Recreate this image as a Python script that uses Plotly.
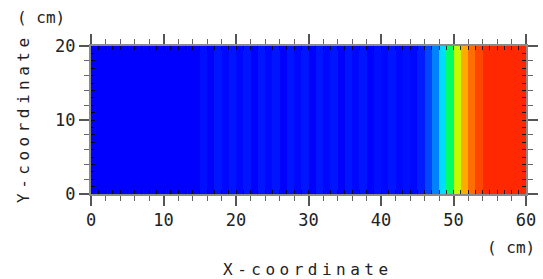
import plotly.graph_objects as go

# Column edges along X (cm) and Y edges (cm)
x_edges = list(range(0, 61))
y_edges = [0, 20]

# Value per 1-cm column (0 = blue ... 1 = red)
col_values = [
    0.00, 0.00, 0.00, 0.00, 0.00, 0.00, 0.00, 0.00, 0.00, 0.00,
    0.00, 0.00, 0.00, 0.00, 0.00, 0.02, 0.00, 0.03, 0.01, 0.03,
    0.01, 0.03, 0.00, 0.03, 0.01, 0.03, 0.00, 0.03, 0.01, 0.03,
    0.00, 0.03, 0.01, 0.03, 0.00, 0.03, 0.01, 0.03, 0.00, 0.02,
    0.01, 0.03, 0.01, 0.02, 0.01, 0.04, 0.10, 0.20, 0.30, 0.40,
    0.52, 0.70, 0.80, 0.90, 1.00, 1.00, 1.00, 1.00, 1.00, 1.00,
]

colorscale = [
    [0.0, "rgb(0,0,255)"],
    [0.1, "rgb(0,70,255)"],
    [0.2, "rgb(0,130,255)"],
    [0.3, "rgb(0,220,255)"],
    [0.4, "rgb(0,255,100)"],
    [0.5, "rgb(180,255,0)"],
    [0.6, "rgb(255,230,0)"],
    [0.7, "rgb(255,170,0)"],
    [0.8, "rgb(255,110,0)"],
    [0.9, "rgb(255,70,0)"],
    [1.0, "rgb(255,40,0)"],
]

x_ticks = [0, 10, 20, 30, 40, 50, 60]
y_ticks = [0, 10, 20]

FONT = "DejaVu Sans Mono"
TXT = "#222222"

W, H = 543, 279
L, R, T, B = 91, 17, 46, 85
PW, PH = W - L - R, H - T - B

fig = go.Figure()
fig.add_trace(go.Heatmap(
    x=x_edges, y=y_edges, z=[col_values],
    colorscale=colorscale, zmin=0, zmax=1, showscale=False,
    hoverinfo="skip",
))
# invisible trace to host the outer labelled axes
fig.add_trace(go.Scatter(x=[], y=[], xaxis="x2", yaxis="y2", showlegend=False))

inner = dict(
    showgrid=False, zeroline=False, showline=False, mirror="ticks",
    ticks="inside", ticklen=4, tickwidth=1, tickcolor="rgba(0,0,0,0.8)",
    dtick=1, tick0=0, showticklabels=False, automargin=False,
)
outer = dict(
    showgrid=False, zeroline=False, showline=True, linecolor="#8a8a8a",
    linewidth=2, mirror="ticks", ticks="outside", ticklen=10, tickwidth=2,
    tickcolor="#555555", automargin=False,
    tickfont=dict(family=FONT, size=17, color=TXT),
    minor=dict(ticks="outside", ticklen=5, tickwidth=1, tickcolor="#666666",
               dtick=2, showgrid=False),
)

fig.update_layout(
    width=W, height=H,
    margin=dict(l=L, r=R, t=T, b=B),
    paper_bgcolor="white", plot_bgcolor="white",
    xaxis=dict(range=[0, 60], **inner),
    yaxis=dict(range=[0, 20], **inner),
    xaxis2=dict(range=[0, 60], overlaying="x", anchor="y2", side="bottom",
                tickvals=x_ticks, **outer),
    yaxis2=dict(range=[0, 20], overlaying="y", anchor="x2", side="left",
                tickvals=y_ticks, **outer),
    showlegend=False,
)

annots = [
    dict(text="( cm)", x=41, y=18),
    dict(text="( cm)", x=511, y=247),
    dict(text="X-coordinate", x=308, y=269),
    dict(text="Y-coordinate", x=23, y=118, textangle=-90),
]
for a in annots:
    fig.add_annotation(
        text=a["text"], x=(a["x"] - L) / PW, y=(H - B - a["y"]) / PH,
        xref="paper", yref="paper", xanchor="center", yanchor="middle",
        showarrow=False, textangle=a.get("textangle", 0),
        font=dict(family=FONT, size=16, color=TXT),
    )

post = """
document.body.style.margin = '0';
document.body.style.overflow = 'hidden';
document.querySelectorAll('.annotation-text').forEach(function(e){
  var t = e.textContent;
  if (t.indexOf('coordinate') >= 0) { e.style.letterSpacing = '4.5px'; }
});
document.querySelectorAll('.xtick text, .ytick text').forEach(function(e){
  e.style.letterSpacing = '3px';
});
"""

fig.write_html("out.html", post_script=post, config={"displayModeBar": False})
